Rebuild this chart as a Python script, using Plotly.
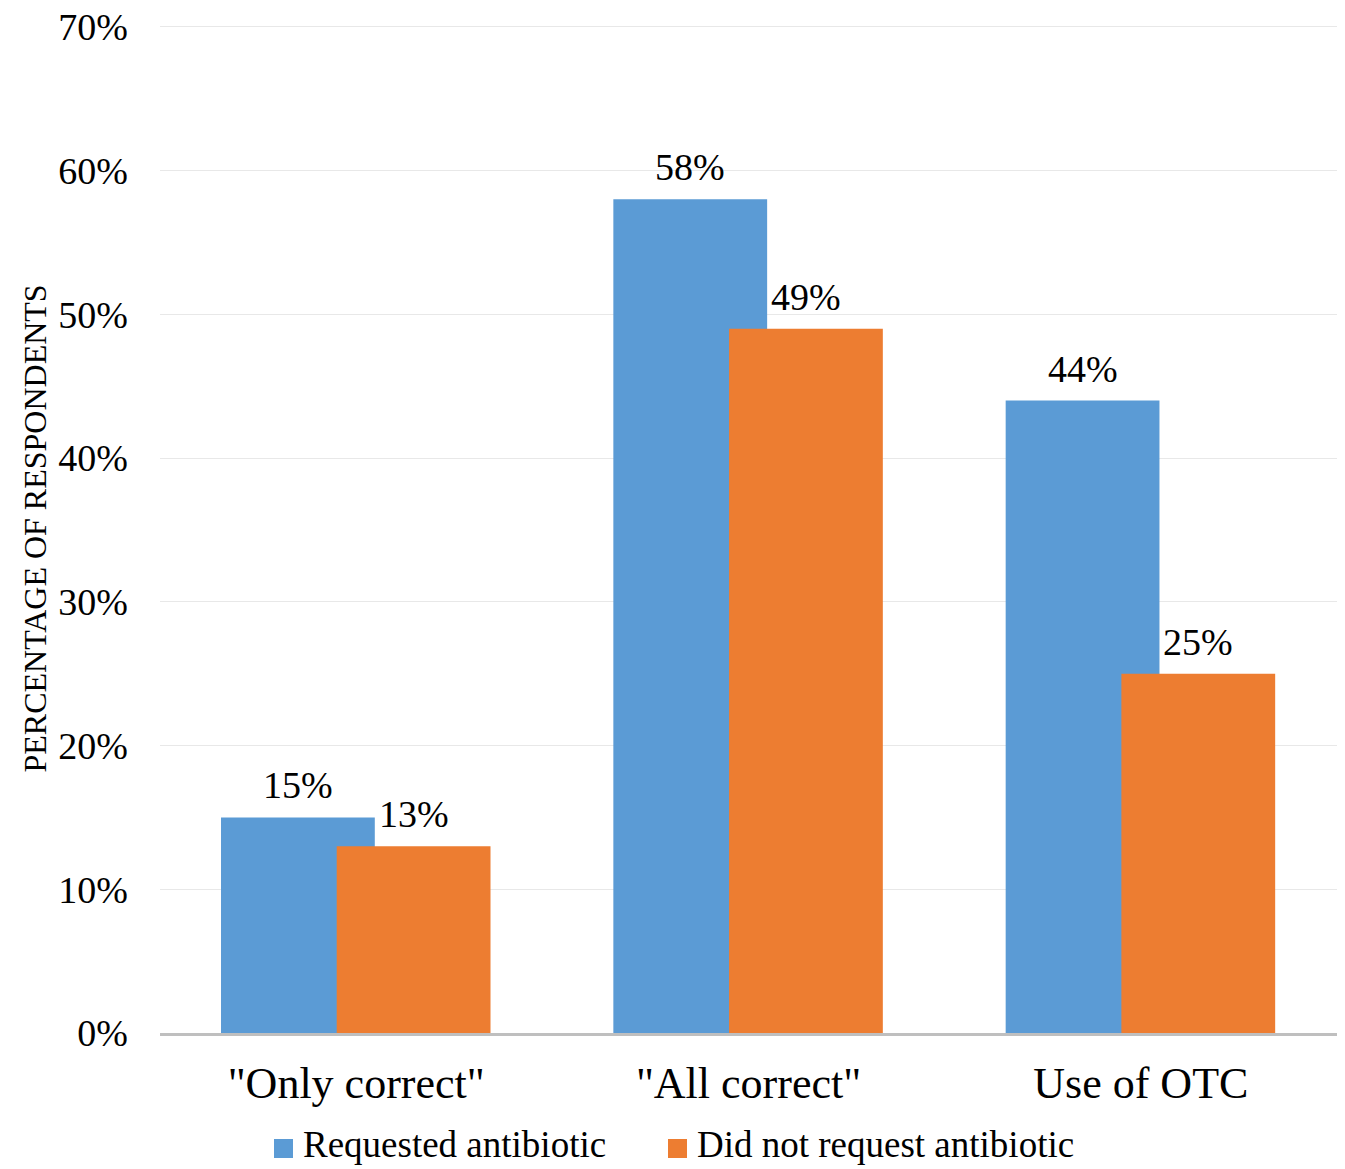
import plotly.graph_objects as go

# Survey results by question group
categories = ['"Only correct"', '"All correct"', "Use of OTC"]
requested = [15, 58, 44]
not_requested = [13, 49, 25]
series_names = ["Requested antibiotic", "Did not request antibiotic"]
y_ticks = [0, 10, 20, 30, 40, 50, 60, 70]

BLUE = "#5B9BD5"
ORANGE = "#ED7D31"
FONT = "Liberation Serif, Times New Roman, serif"
W, H = 1345, 1169
M_L, M_R, M_T, M_B = 160, 8, 24, 136
PLOT_W = W - M_L - M_R
PLOT_H = H - M_T - M_B

# Overlapping bar geometry (category units)
BAR_W = 0.392
OFFSETS = [-0.3445, -0.0496]


def px_to_paper(px, py):
    """Convert page pixel position into paper coordinates."""
    return (px - M_L) / PLOT_W, (H - M_B - py) / PLOT_H


fig = go.Figure()
for vals, color, off, name in [(requested, BLUE, OFFSETS[0], series_names[0]),
                               (not_requested, ORANGE, OFFSETS[1], series_names[1])]:
    fig.add_trace(go.Bar(
        x=categories, y=vals, width=BAR_W, offset=off, name=name,
        marker=dict(color=color, line=dict(width=0)),
        showlegend=False, hoverinfo="skip",
    ))

# Value labels above each bar
for vals, off in [(requested, OFFSETS[0]), (not_requested, OFFSETS[1])]:
    for i, v in enumerate(vals):
        fig.add_annotation(
            x=i + off + BAR_W / 2, y=v, xref="x", yref="y",
            text=f"{v}%", showarrow=False, yanchor="bottom", yshift=9,
            font=dict(family=FONT, size=38, color="#000000"),
        )

# Legend row along the bottom: square swatch + series name
swatch_left = [274, 668]
for name, color, sx in zip(series_names, [BLUE, ORANGE], swatch_left):
    x0, y0 = px_to_paper(sx, 1158)
    x1, y1 = px_to_paper(sx + 19, 1139)
    fig.add_shape(type="rect", xref="paper", yref="paper",
                  x0=x0, y0=y0, x1=x1, y1=y1,
                  fillcolor=color, line=dict(width=0), layer="above")
    tx, ty = px_to_paper(sx + 28, 1144)
    fig.add_annotation(
        text=name, xref="paper", yref="paper", x=tx, y=ty,
        xanchor="left", yanchor="middle", showarrow=False, borderpad=0,
        font=dict(family=FONT, size=37, color="#000000"),
    )

fig.add_annotation(
    text="PERCENTAGE OF RESPONDENTS", textangle=-90,
    xref="paper", yref="paper", x=px_to_paper(34, 0)[0], y=0.5,
    xanchor="center", yanchor="middle", showarrow=False,
    font=dict(family=FONT, size=32, color="#000000"),
)

fig.update_layout(
    width=W, height=H,
    margin=dict(l=M_L, r=M_R, t=M_T, b=M_B, autoexpand=False),
    plot_bgcolor="white", paper_bgcolor="white",
    barmode="overlay", showlegend=False,
    font=dict(family=FONT, color="#000000"),
    xaxis=dict(
        type="category", range=[-0.5, 2.5],
        showline=True, linecolor="#BFBFBF", linewidth=3,
        showgrid=False, ticks="", ticklabelstandoff=9,
        tickfont=dict(family=FONT, size=44, color="#000000"),
    ),
    yaxis=dict(
        range=[0, 70.2], tickvals=y_ticks, ticktext=[f"{t}%" for t in y_ticks],
        showgrid=True, gridcolor="#E8E8E8", gridwidth=1,
        zeroline=False, showline=False, ticks="", ticklabelstandoff=31,
        tickfont=dict(family=FONT, size=38, color="#000000"),
    ),
)

fig.write_html("out.html")
